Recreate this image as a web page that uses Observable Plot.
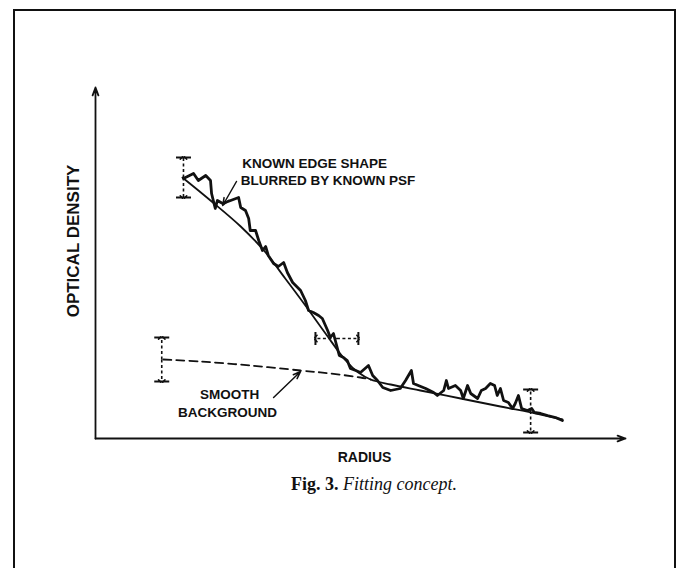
<!DOCTYPE html>
<html><head><meta charset="utf-8">
<script src="https://cdn.jsdelivr.net/npm/d3@7"></script>
<script src="https://cdn.jsdelivr.net/npm/@observablehq/plot@0.6"></script>
<style>
html,body{margin:0;padding:0;background:#fff;overflow:hidden;width:682px;height:568px;}
#frame{position:absolute;left:13px;top:9px;width:663px;height:620px;border:2px solid #111;border-bottom:none;box-sizing:border-box;}
#chart{position:absolute;left:0;top:0;}
#caption{position:absolute;left:0;width:748px;top:474px;line-height:20px;text-align:center;font-family:"Liberation Serif","DejaVu Serif",serif;font-size:18px;color:#111;white-space:nowrap;}
</style></head><body>
<div id="frame"></div>
<div id="chart"></div>
<div id="caption"><b>Fig. 3.</b> <i>Fitting concept.</i></div>
<script>
// Measured optical density profile (noisy trace)
const noisyRadius = [1.66,1.85,1.94,2.08,2.17,2.19,2.26,2.30,2.40,2.55,2.70,2.74,2.83,2.89,2.92,3.02,3.08,3.15,3.21,3.26,3.36,3.45,3.55,3.62,3.72,3.87,3.96,4.02,4.11,4.21,4.28,4.38,4.43,4.49,4.55,4.60,4.68,4.75,4.81,4.91,5.00,5.15,5.23,5.32,5.42,5.57,5.75,5.85,5.96,6.00,6.09,6.23,6.38,6.45,6.57,6.62,6.66,6.79,6.89,6.94,7.02,7.08,7.21,7.28,7.36,7.45,7.53,7.58,7.64,7.70,7.79,7.87,7.92,7.98,8.04,8.15,8.23,8.28,8.40,8.53,8.68,8.81];
const noisyDensity = [2.60,2.65,2.58,2.63,2.58,2.45,2.30,2.38,2.35,2.38,2.41,2.31,2.28,2.20,2.08,2.08,1.98,1.88,1.92,1.83,1.75,1.72,1.76,1.66,1.56,1.48,1.38,1.28,1.26,1.23,1.20,1.08,1.01,1.05,0.93,0.83,0.81,0.78,0.70,0.68,0.66,0.73,0.63,0.58,0.51,0.48,0.50,0.58,0.68,0.55,0.53,0.50,0.46,0.43,0.48,0.58,0.50,0.53,0.48,0.40,0.53,0.45,0.40,0.48,0.50,0.55,0.53,0.43,0.50,0.38,0.36,0.30,0.35,0.43,0.30,0.28,0.30,0.26,0.25,0.23,0.21,0.18];
// Fitted model: known edge shape blurred by known PSF
const fitRadius = [1.64,2.17,2.74,3.21,3.58,3.96,4.34,4.72,4.96,5.19,5.57,6.13,6.89,7.64,8.40,8.81];
const fitDensity = [2.61,2.38,2.12,1.86,1.60,1.33,1.05,0.78,0.66,0.59,0.54,0.48,0.40,0.32,0.24,0.19];
// Smooth background under the edge
const bgRadius = [1.28,1.98,2.92,3.87,4.43,5.00,5.19];
const bgDensity = [0.79,0.77,0.73,0.68,0.65,0.61,0.59];
// Vertical uncertainty markers (radius, centre density, half-range)
const vMarkRadius = [1.66,1.25,8.21];
const vMarkCenter = [2.61,0.79,0.275];
const vMarkHalf = [0.20,0.22,0.215];
// Horizontal uncertainty marker (centre radius, density, half-range)
const hMarkCenter = [4.555];
const hMarkDensity = [1.00];
const hMarkHalf = [0.405];
// Annotation labels
const edgeLabels = ["KNOWN EDGE SHAPE","BLURRED BY KNOWN PSF"];
const edgeLabelRadius = [2.77,2.74];
const edgeLabelDensity = [2.75,2.58];
const bgLabels = ["SMOOTH","BACKGROUND"];
const bgLabelRadius = [2.53,2.49];
const bgLabelDensity = [0.44,0.26];
// Annotation pointer arrows [fromR, fromD, toR, toD]
const pointerFromR = [2.66,3.36];
const pointerFromD = [2.57,0.41];
const pointerToR = [2.40,3.87];
const pointerToD = [2.33,0.67];
// Axis extents
const radiusMax = 10;
const densityMax = 3.51;

const noisy = noisyRadius.map((r,i)=>({r, d: noisyDensity[i]}));
const fit = fitRadius.map((r,i)=>({r, d: fitDensity[i]}));
const bg = bgRadius.map((r,i)=>({r, d: bgDensity[i]}));

const vCaps = [], vLinks = [];
vMarkRadius.forEach((r,i)=>{
  const c = vMarkCenter[i], h = vMarkHalf[i];
  vCaps.push({r, d: c+h}, {r, d: c-h});
  vLinks.push({r1:r,d1:c,r2:r,d2:c+h},{r1:r,d1:c,r2:r,d2:c-h});
});
const hCaps = [], hLinks = [];
hMarkCenter.forEach((c,i)=>{
  const d = hMarkDensity[i], h = hMarkHalf[i];
  hCaps.push({r: c-h, d}, {r: c+h, d});
  hLinks.push({r1:c,d1:d,r2:c-h,d2:d},{r1:c,d1:d,r2:c+h,d2:d});
});
const pointers = pointerFromR.map((r,i)=>({r1:r,d1:pointerFromD[i],r2:pointerToR[i],d2:pointerToD[i]}));
const axes = [{r1:0,d1:0,r2:radiusMax,d2:0},{r1:0,d1:0,r2:0,d2:densityMax}];

const hbar = {draw(ctx, size){ const s = Math.sqrt(size/Math.PI); ctx.moveTo(-s,0); ctx.lineTo(s,0); }};
const vbar = {draw(ctx, size){ const s = Math.sqrt(size/Math.PI); ctx.moveTo(0,-s); ctx.lineTo(0,s); }};
const ink = "#111";

const chart = Plot.plot({
  width: 682, height: 480,
  marginLeft: 95, marginRight: 57, marginTop: 87, marginBottom: 42,
  x: {domain: [0, radiusMax], axis: null},
  y: {domain: [0, densityMax], axis: null},
  style: {fontFamily: "'Liberation Sans', Arial, sans-serif", background: "transparent", overflow: "visible", color: ink},
  marks: [
    Plot.arrow(axes, {x1:"r1", y1:"d1", x2:"r2", y2:"d2", stroke: ink, strokeWidth: 1.8, headLength: 7, headAngle: 40}),
    Plot.line(bg, {x:"r", y:"d", curve:"catmull-rom", stroke: ink, strokeWidth: 1.8, strokeDasharray: "8,5"}),
    Plot.line(fit, {x:"r", y:"d", curve:"catmull-rom", stroke: ink, strokeWidth: 1.8}),
    Plot.line(noisy, {x:"r", y:"d", stroke: ink, strokeWidth: 2.8, strokeLinejoin: "round"}),
    Plot.link(vLinks, {x1:"r1", y1:"d1", x2:"r2", y2:"d2", stroke: ink, strokeWidth: 1.6, strokeDasharray: "3,2.5", markerEnd: "arrow"}),
    Plot.link(hLinks, {x1:"r1", y1:"d1", x2:"r2", y2:"d2", stroke: ink, strokeWidth: 1.6, strokeDasharray: "3,2.5", markerEnd: "arrow"}),
    Plot.dot(vCaps, {x:"r", y:"d", symbol: hbar, r: 7.5, stroke: ink, strokeWidth: 2}),
    Plot.dot(hCaps, {x:"r", y:"d", symbol: vbar, r: 6.5, stroke: ink, strokeWidth: 2}),
    Plot.arrow(pointers, {x1:"r1", y1:"d1", x2:"r2", y2:"d2", stroke: ink, strokeWidth: 1.5, headLength: 8, headAngle: 40}),
    Plot.text(edgeLabels, {x: (d,i)=>edgeLabelRadius[i], y: (d,i)=>edgeLabelDensity[i], textAnchor: "start", fontSize: 13.5, fontWeight: "bold", fill: ink}),
    Plot.text(bgLabels, {x: (d,i)=>bgLabelRadius[i], y: (d,i)=>bgLabelDensity[i], textAnchor: "middle", fontSize: 13.5, fontWeight: "bold", fill: ink}),
    Plot.text(["RADIUS"], {frameAnchor: "bottom", dx: 4, dy: 23, fontSize: 14, fontWeight: "bold", fill: ink}),
    Plot.text(["OPTICAL DENSITY"], {frameAnchor: "left", textAnchor: "middle", dx: -22, dy: -22, rotate: -90, fontSize: 17, fontWeight: "bold", fill: ink})
  ]
});
document.getElementById("chart").appendChild(chart);
</script>
</body></html>
